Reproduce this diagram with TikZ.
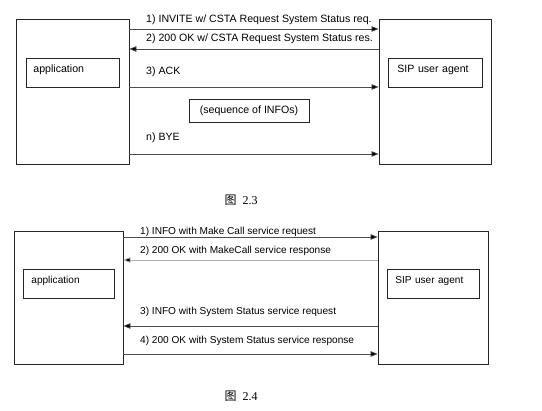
\documentclass[tikz,border=0pt]{standalone}
\usepackage{fontspec}
\setmainfont{Liberation Sans}
\newfontfamily\capfont{Liberation Serif}
\newfontfamily\cjkfont{Noto Sans CJK SC}
\usetikzlibrary{arrows.meta}

\tikzset{
        party/.style={draw=black!85, line width=0.8pt, inner sep=0pt, minimum width=#1},
        role/.style={draw=black!85, line width=0.8pt, text width=#1, minimum height=29pt,
                inner xsep=7pt, inner ysep=4pt, text height=10pt, text depth=11pt, align=left},
        msg/.style={draw=black!70, line width=0.7pt, -{Triangle[length=7pt,width=5.5pt,fill=black]}},
        msglabel/.style={anchor=west, inner sep=0pt},
        small/.style={font=\fontsize{10.1}{12}\selectfont},
        figcap/.style={inner sep=0pt, font=\fontsize{12}{14}\selectfont}
}

\begin{document}
\begin{tikzpicture}[x=1pt, y=-1pt, font=\fontsize{10.6}{12}\selectfont]
        \useasboundingbox (0,0) rectangle (542,411);

        % figure 2.3
        \node (leftA) [party=113pt, minimum height=145pt] at (72.5,91.5) {};
        \node (rightA) [party=112pt, minimum height=145pt] at (435,91.5) {};
        \node (appA) [role=79pt, anchor=north west] at (26,58) {application};
        \node (uaA) [role=76pt, anchor=north west, inner xsep=9pt] at (388,58) {SIP user agent};
        \node (seqA) [draw=black!85, line width=0.8pt, minimum width=120pt, minimum height=23pt] at (249,110.5) {(sequence of INFOs)};

        \coordinate (a1) at (0,29);
        \coordinate (a2) at (0,49);
        \coordinate (a3) at (0,87);
        \coordinate (an) at (0,154);

        \node (la1) [msglabel] at (146,20) {1) INVITE w/ CSTA Request System Status req.};
        \node (la2) [msglabel] at (146,39) {2) 200 OK w/ CSTA Request System Status res.};
        \node (la3) [msglabel] at (146,72) {3) ACK};
        \node (lan) [msglabel] at (146,138) {n) BYE};

        \draw[msg] (leftA.east |- a1) -- (rightA.west |- a1);
        \draw[msg] (rightA.west |- a2) -- (leftA.east |- a2);
        \draw[msg] (leftA.east |- a3) -- (rightA.west |- a3);
        \draw[msg] (leftA.east |- an) -- (rightA.west |- an);

        \node (capA) [figcap] at (241,200) {{\cjkfont 图}\hspace{6pt}{\capfont 2.3}};

        % figure 2.4
        \node (leftB) [party=109pt, minimum height=133pt] at (68.5,297.5) {};
        \node (rightB) [party=110pt, minimum height=133pt] at (433,297.5) {};
        \node (appB) [role=75pt, anchor=north west, inner xsep=8pt, small] at (23,269) {application};
        \node (uaB) [role=76pt, anchor=north west, inner xsep=8pt, small] at (387,269) {SIP user agent};

        \coordinate (b1) at (0,237);
        \coordinate (b2) at (0,260);
        \coordinate (b3) at (0,326);
        \coordinate (b4) at (0,354);

        \node (lb1) [msglabel, small] at (140,231.5) {1) INFO with Make Call service request};
        \node (lb2) [msglabel, small] at (140,251) {2) 200 OK with MakeCall service response};
        \node (lb3) [msglabel, small] at (140,312) {3) INFO with System Status service request};
        \node (lb4) [msglabel, small] at (140,341) {4) 200 OK with System Status service response};

        \draw[msg] (leftB.east |- b1) -- (rightB.west |- b1);
        \draw[msg, draw=black!30] (rightB.west |- b2) -- (leftB.east |- b2);
        \draw[msg] (rightB.west |- b3) -- (leftB.east |- b3);
        \draw[msg] (leftB.east |- b4) -- (rightB.west |- b4);

        \node (capB) [figcap] at (241,396) {{\cjkfont 图}\hspace{6pt}{\capfont 2.4}};
\end{tikzpicture}
\end{document}
